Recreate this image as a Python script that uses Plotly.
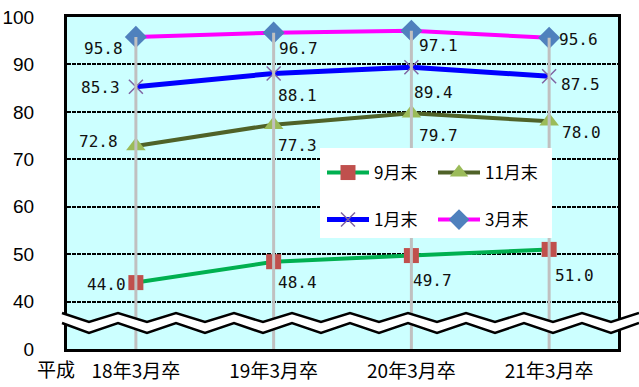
import plotly.graph_objects as go

categories = ["18年3月卒", "19年3月卒", "20年3月卒", "21年3月卒"]
series_names = ["9月末", "11月末", "1月末", "3月末"]
sep_values = [44.0, 48.4, 49.7, 51.0]
nov_values = [72.8, 77.3, 79.7, 78.0]
jan_values = [85.3, 88.1, 89.4, 87.5]
mar_values = [95.8, 96.7, 97.1, 95.6]
tick_values = [30, 40, 50, 60, 70, 80, 90, 100]
tick_labels = ["0", "40", "50", "60", "70", "80", "90", "100"]
axis_floor = 30

# label offsets (px): dx right, dy down
label_offsets = {
    "3月末": [(-32, 12), (25, 16), (27, 15), (29, 2)],
    "1月末": [(-35, 1), (24, 22), (22, 25), (31, 8)],
    "11月末": [(-37, -5), (24, 21), (27, 22), (32, 11)],
    "9月末": [(-29, 2), (24, 21), (21, 25), (25, 26)],
}

styles = {
    "9月末": dict(line=dict(color="#00b050", width=4),
                 marker=dict(symbol="square", size=15, color="#c0504d"), legend="legend"),
    "11月末": dict(line=dict(color="#4f6228", width=4),
                  marker=dict(symbol="triangle-up", size=17, color="#9bbb59"), legend="legend"),
    "1月末": dict(line=dict(color="#0000ff", width=5),
                 marker=dict(symbol="x-thin", size=14, color="#8064a2",
                             line=dict(color="#8064a2", width=1.5)), legend="legend2"),
    "3月末": dict(line=dict(color="#ff00ff", width=4),
                 marker=dict(symbol="diamond", size=17, color="#4f81bd"), legend="legend2"),
}

values = {"9月末": sep_values, "11月末": nov_values, "1月末": jan_values, "3月末": mar_values}

fig = go.Figure()
for name in series_names:
    st = styles[name]
    fig.add_trace(go.Scatter(x=categories, y=values[name], mode="lines+markers", name=name,
                             line=st["line"], marker=st["marker"], legend=st["legend"]))

# drop lines from highest value to the axis floor
dx, dy = [], []
for i, c in enumerate(categories):
    top = max(values[n][i] for n in series_names)
    dx += [c, c, None]
    dy += [top, axis_floor, None]
fig.add_trace(go.Scatter(x=dx, y=dy, mode="lines", line=dict(color="#c0c0c0", width=3),
                         showlegend=False, hoverinfo="skip"))

W, H = 639, 387
ML, MR, MT, MB = 67, 21, 17, 38
PW, PH = W - ML - MR, H - MT - MB

def px_to_paper(px, py):
    return (px - ML) / PW, (H - MB - py) / PH

annotations = []
for name in series_names:
    for i, c in enumerate(categories):
        ox, oy = label_offsets[name][i]
        annotations.append(dict(x=c, y=values[name][i], xref="x", yref="y",
                                text=f"{values[name][i]:.1f}", showarrow=False,
                                xshift=ox, yshift=-oy,
                                font=dict(family="DejaVu Sans Mono", size=16, color="#111111")))
ax_, ay_ = px_to_paper(56, 368)
annotations.append(dict(x=ax_, y=ay_, xref="paper", yref="paper", text="平成", showarrow=False,
                        xanchor="center", yanchor="middle",
                        font=dict(family="Noto Sans CJK JP", size=19, color="#000000")))

# axis-break wave decoration
xs = [60 + 29 * k for k in range(21)]
xs[0] = 62
xs[-1] = 639
upper = [(x, 313 if k % 2 == 0 else 322) for k, x in enumerate(xs)]
lower = [(x, 323 if k % 2 == 0 else 333) for k, x in enumerate(xs)]

def path_of(pts):
    s = ""
    for j, (x, y) in enumerate(pts):
        X, Y = px_to_paper(x, y)
        s += ("M" if j == 0 else "L") + f"{X:.5f},{Y:.5f}"
    return s

fill_path = path_of(upper + lower[::-1]) + "Z"
shapes = [
    dict(type="path", xref="paper", yref="paper", path=fill_path, fillcolor="white",
         line=dict(width=0), layer="above"),
    dict(type="path", xref="paper", yref="paper", path=path_of(upper),
         line=dict(color="black", width=2.5), layer="above"),
    dict(type="path", xref="paper", yref="paper", path=path_of(lower),
         line=dict(color="black", width=2.5), layer="above"),
]
# legend white box
bx0, by0 = px_to_paper(320, 238)
bx1, by1 = px_to_paper(552, 148)
shapes.append(dict(type="rect", xref="paper", yref="paper", x0=bx0, y0=by0, x1=bx1, y1=by1,
                   fillcolor="white", line=dict(width=0), layer="above"))

lx, ly1 = px_to_paper(322, 173)
_, ly2 = px_to_paper(322, 220)
legend_common = dict(orientation="h", xanchor="left", yanchor="middle", bgcolor="rgba(0,0,0,0)",
                     font=dict(family="Noto Sans CJK JP", size=17, color="#000000"),
                     entrywidth=54, entrywidthmode="pixels", itemwidth=42, traceorder="normal")

fig.update_layout(
    width=W, height=H, margin=dict(l=ML, r=MR, t=MT, b=MB, autoexpand=False),
    paper_bgcolor="white", plot_bgcolor="#ccffff",
    font=dict(family="Liberation Sans, Noto Sans CJK JP", color="#000000"),
    showlegend=True,
    legend=dict(x=lx, y=ly1, **legend_common),
    legend2=dict(x=lx, y=ly2, **legend_common),
    annotations=annotations, shapes=shapes,
    xaxis=dict(type="category", range=[-0.5, 3.5], showgrid=False, showline=True, mirror=True,
               linecolor="black", linewidth=3, ticks="", ticklabelstandoff=3, automargin=False,
               tickfont=dict(family="Noto Sans CJK JP", size=19, color="#000000"), zeroline=False),
    yaxis=dict(range=[axis_floor, 100], tickvals=tick_values, ticktext=tick_labels,
               showgrid=True, gridcolor="black", gridwidth=2, griddash="4px,1px",
               showline=True, mirror=True, linecolor="black", linewidth=3, ticks="",
               ticklabelstandoff=26, zeroline=False, automargin=False,
               tickfont=dict(family="Liberation Sans", size=19, color="#000000")),
)

fig.write_html("out.html")
